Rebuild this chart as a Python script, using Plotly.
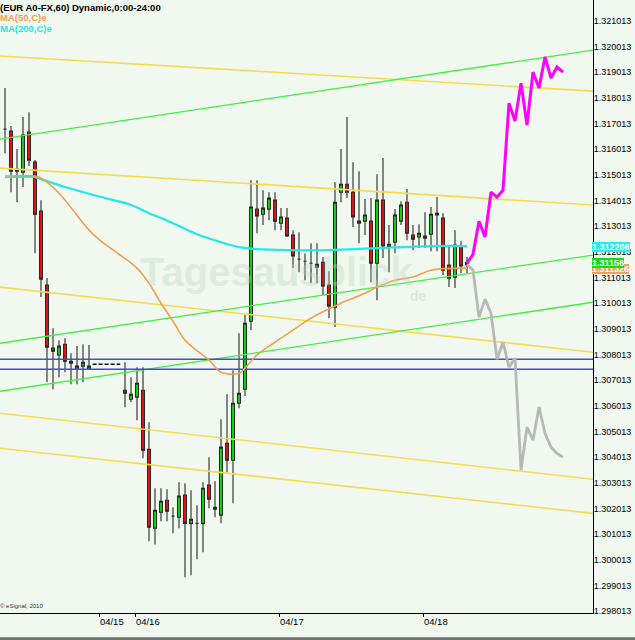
import plotly.graph_objects as go

# ---------------- data ----------------
bar_index = list(range(0, 15)) + list(range(20, 78))

open_ = [1.31680, 1.31672, 1.31524, 1.31512, 1.31668, 1.31551, 1.31360, 1.31072, 1.30826, 1.30799,
         1.30841, 1.30775, 1.30744, 1.30756, 1.30744,
         1.30662, 1.30627, 1.30635, 1.30662, 1.30432, 1.30124, 1.30186, 1.30233, 1.30171, 1.30167,
         1.30253, 1.30143, 1.30143, 1.30143, 1.30292, 1.30206, 1.30175, 1.30455, 1.30389, 1.30611,
         1.30666, 1.30931, 1.31368, 1.31348, 1.31368, 1.31403, 1.31313, 1.31333, 1.31267, 1.31173,
         1.31165, 1.31157, 1.31142, 1.31161, 1.31072, 1.30986, 1.31434, 1.31465, 1.31434, 1.31313,
         1.31321, 1.31321, 1.31157, 1.31403, 1.31220, 1.31239, 1.31321, 1.31395, 1.31267, 1.31259,
         1.31263, 1.31270, 1.31352, 1.31333, 1.31150, 1.31103, 1.31224, 1.31150]
high_ = [1.31840, 1.31692, 1.31602, 1.31727, 1.31746, 1.31559, 1.31403, 1.31099, 1.30904, 1.30857,
         1.30865, 1.30806, 1.30834, 1.30841, 1.30838,
         1.30771, 1.30713, 1.30752, 1.30752, 1.30537, 1.30280, 1.30280, 1.30276, 1.30206, 1.30303,
         1.30299, 1.30272, 1.30214, 1.30303, 1.30401, 1.30307, 1.30549, 1.30646, 1.30740, 1.30884,
         1.30955, 1.31481, 1.31481, 1.31442, 1.31434, 1.31434, 1.31372, 1.31372, 1.31286, 1.31278,
         1.31196, 1.31235, 1.31235, 1.31181, 1.31126, 1.31473, 1.31602, 1.31727, 1.31551, 1.31516,
         1.31407, 1.31411, 1.31504, 1.31567, 1.31306, 1.31368, 1.31399, 1.31446, 1.31306, 1.31309,
         1.31356, 1.31376, 1.31415, 1.31352, 1.31220, 1.31286, 1.31243, 1.31181]
low_ = [1.31586, 1.31434, 1.31395, 1.31454, 1.31536, 1.31196, 1.31025, 1.30693, 1.30666, 1.30713,
        1.30732, 1.30685, 1.30685, 1.30693, 1.30744,
        1.30596, 1.30615, 1.30545, 1.30397, 1.30073, 1.30061, 1.30151, 1.30151, 1.30104, 1.30124,
        1.29933, 1.29941, 1.30003, 1.30030, 1.30202, 1.30167, 1.30143, 1.30342, 1.30221, 1.30592,
        1.30639, 1.30896, 1.31274, 1.31306, 1.31325, 1.31286, 1.31286, 1.31259, 1.31138, 1.31122,
        1.31091, 1.31079, 1.31079, 1.31033, 1.30943, 1.30908, 1.31395, 1.31411, 1.31298, 1.31235,
        1.31267, 1.31083, 1.31013, 1.31177, 1.31122, 1.31196, 1.31306, 1.31247, 1.31208, 1.31216,
        1.31216, 1.31204, 1.31204, 1.31111, 1.31064, 1.31060, 1.31118, 1.31118]
close_ = [1.31680, 1.31516, 1.31516, 1.31657, 1.31559, 1.31348, 1.31095, 1.30830, 1.30814, 1.30834,
          1.30775, 1.30767, 1.30756, 1.30771, 1.30756,
          1.30650, 1.30646, 1.30689, 1.30428, 1.30128, 1.30194, 1.30229, 1.30190, 1.30171, 1.30249,
          1.30143, 1.30159, 1.30143, 1.30280, 1.30237, 1.30198, 1.30440, 1.30389, 1.30611, 1.30650,
          1.30923, 1.31376, 1.31341, 1.31372, 1.31411, 1.31321, 1.31337, 1.31263, 1.31185, 1.31173,
          1.31165, 1.31157, 1.31153, 1.31068, 1.30990, 1.31395, 1.31465, 1.31434, 1.31337, 1.31321,
          1.31345, 1.31157, 1.31403, 1.31224, 1.31231, 1.31345, 1.31384, 1.31274, 1.31251, 1.31274,
          1.31255, 1.31348, 1.31345, 1.31130, 1.31099, 1.31228, 1.31146, 1.31161]

gap_index = [14.6, 19.2]
gap_level = [1.30763, 1.30763]

ma200_index = [0, 5, 6, 10, 16, 21, 24, 26, 29, 32, 36, 39, 42, 47, 54, 62, 71, 77]
ma200 = [1.31493, 1.31493, 1.31485, 1.31454, 1.31415, 1.31384, 1.31352, 1.31333, 1.31302, 1.31270,
         1.31239, 1.31220, 1.31212, 1.31208, 1.31208, 1.31216, 1.31224, 1.31224]

ma50_index = [0, 5, 6, 9, 14, 16, 19, 22, 24, 26, 28, 30, 34, 36, 39, 40, 42, 45, 48, 51, 56, 60,
              62, 65, 68, 71, 77]
ma50 = [1.31497, 1.31497, 1.31489, 1.31430, 1.31286, 1.31243, 1.31192, 1.31138, 1.31079, 1.31001,
        1.30931, 1.30857, 1.30779, 1.30732, 1.30728, 1.30748, 1.30799, 1.30849, 1.30896, 1.30943,
        1.31001, 1.31040, 1.31064, 1.31091, 1.31103, 1.31130, 1.31138]

proj_index = list(range(77, 94))
proj_up = [1.31157, 1.31192, 1.31321, 1.31259, 1.31434, 1.31415, 1.31442, 1.31781, 1.31711, 1.31859,
           1.31696, 1.31902, 1.31840, 1.31961, 1.31879, 1.31922, 1.31902]
proj_down = [1.31153, 1.31130, 1.30947, 1.31017, 1.30962, 1.30783, 1.30849, 1.30752, 1.30787, 1.30350,
             1.30518, 1.30467, 1.30596, 1.30494, 1.30440, 1.30416, 1.30401]

edge_index = [-0.85, 98]
green_left = [1.31641, 1.30845, 1.30658]
green_right = [1.31988, 1.31189, 1.31005]
yellow_left = [1.31965, 1.31528, 1.31064, 1.30572, 1.30436]
yellow_right = [1.31828, 1.31384, 1.30810, 1.30315, 1.30182]
blue_levels = [1.30783, 1.30744]

day_ticks = [15.8, 21.8, 45.8, 69.8]
day_labels = ["04/15", "04/16", "04/17", "04/18"]

last_ma200 = "1.312206"
last_close = "1.31156"
last_ma50 = "1.311326"

# ---------------- styling ----------------
BG = "#f0f8f0"
FONT = "Liberation Sans, Arial, sans-serif"

fig = go.Figure()

for l, r in zip(yellow_left, yellow_right):
    fig.add_trace(go.Scatter(x=edge_index, y=[l, r], mode="lines",
                             line=dict(color="#f3dc50", width=1.6), hoverinfo="skip"))
for l, r in zip(green_left, green_right):
    fig.add_trace(go.Scatter(x=edge_index, y=[l, r], mode="lines",
                             line=dict(color="#44ee44", width=1.3), hoverinfo="skip"))
for lv in blue_levels:
    fig.add_trace(go.Scatter(x=edge_index, y=[lv, lv], mode="lines",
                             line=dict(color="#4848d8", width=1.4), hoverinfo="skip"))

fig.add_trace(go.Scatter(x=ma200_index, y=ma200, mode="lines", line_shape="spline",
                         line=dict(color="#22e8e8", width=2.2), hoverinfo="skip"))
fig.add_trace(go.Scatter(x=ma50_index, y=ma50, mode="lines", line_shape="spline",
                         line=dict(color="#f0a050", width=1.6), hoverinfo="skip"))

fig.add_trace(go.Scatter(x=gap_index, y=gap_level, mode="lines",
                         line=dict(color="#111111", width=1.5, dash="4px,2px"), hoverinfo="skip"))

fig.add_trace(go.Scatter(x=proj_index, y=proj_down, mode="lines",
                         line=dict(color="#b8b8b8", width=2.8), hoverinfo="skip"))
fig.add_trace(go.Scatter(x=proj_index, y=proj_up, mode="lines",
                         line=dict(color="#ff00ff", width=3), hoverinfo="skip"))

fig.add_trace(go.Candlestick(
    x=bar_index, open=open_, high=high_, low=low_, close=close_,
    increasing=dict(line=dict(color="#2a2a2a", width=1.1), fillcolor="#11dd11"),
    decreasing=dict(line=dict(color="#2a2a2a", width=1.1), fillcolor="#ee1111"),
    whiskerwidth=0, hoverinfo="skip"))

annotations = [
    dict(text="<b>(EUR A0-FX,60) Dynamic,0:00-24:00</b>", x=0.0, y=1 - 7 / 613,
         font=dict(family=FONT, size=9.5, color="#000000")),
    dict(text="<b>MA(50,C)e</b>", x=0.0, y=1 - 18 / 613,
         font=dict(family=FONT, size=9.5, color="#f0a050")),
    dict(text="<b>MA(200,C)e</b>", x=0.0, y=1 - 29 / 613,
         font=dict(family=FONT, size=9.5, color="#22e8e8")),
    dict(text="© eSignal, 2010", x=0.0, y=1 - 606 / 613,
         font=dict(family=FONT, size=6, color="#333333")),
]
for a in annotations:
    a.update(xref="paper", yref="paper", xanchor="left", yanchor="middle", showarrow=False,
             xshift=-2)

# watermark
annotations.append(dict(text="<b>Tagesausblick</b>", xref="paper", yref="paper",
                        x=138 / 593, y=1 - 272 / 613, xanchor="left", yanchor="middle",
                        showarrow=False,
                        font=dict(family=FONT, size=40, color="rgba(190,215,190,0.35)")))
annotations.append(dict(text="<b>de</b>", xref="paper", yref="paper",
                        x=408 / 593, y=1 - 296 / 613, xanchor="left", yanchor="middle",
                        showarrow=False,
                        font=dict(family=FONT, size=14, color="rgba(190,215,190,0.45)")))

# right-axis value boxes
for txt, val, col in [(last_ma50, 1.31134, "#f0a060"), (last_ma200, 1.31221, "#22eeee"),
                      (last_close, 1.31159, "#11dd11")]:
    annotations.append(dict(text="<b>" + txt + "</b>", xref="paper", yref="y",
                            x=1.0, y=val, xanchor="left", yanchor="middle", showarrow=False,
                            bgcolor=col, borderpad=0, borderwidth=0, xshift=-1,
                            font=dict(family=FONT, size=9, color="#ffffff")))

fig.update_layout(
    width=635, height=640,
    margin=dict(l=0, r=42, t=0, b=27),
    paper_bgcolor=BG, plot_bgcolor=BG,
    showlegend=False, hovermode=False,
    annotations=annotations,
    shapes=[dict(type="rect", xref="paper", yref="paper", x0=-0.01, x1=1.1,
                 y0=-0.06, y1=-0.0395, fillcolor="#707070", line=dict(width=0), layer="above")],
    xaxis=dict(range=[-0.833, 98], showgrid=False, zeroline=False, automargin=False,
               showline=True, linecolor="#000000", linewidth=1,
               tickvals=day_ticks, ticktext=day_labels,
               ticks="outside", ticklen=3, tickcolor="#000000",
               ticklabelshift=12, ticklabelstandoff=-3,
               tickfont=dict(family=FONT, size=9.5, color="#000000"),
               rangeslider=dict(visible=False), fixedrange=True),
    yaxis=dict(range=[1.297935, 1.321832], side="right", showgrid=False, zeroline=False,
               automargin=False,
               showline=True, linecolor="#000000", linewidth=1,
               tick0=1.298013, dtick=0.001, tickformat=".6f", ticks="",
               ticklabelstandoff=-2,
               tickfont=dict(family=FONT, size=9, color="#000000"), fixedrange=True),
)

fig.write_html("out.html", config={"displayModeBar": False},
               post_script="document.body.style.margin='0';document.body.style.overflow='hidden';")
